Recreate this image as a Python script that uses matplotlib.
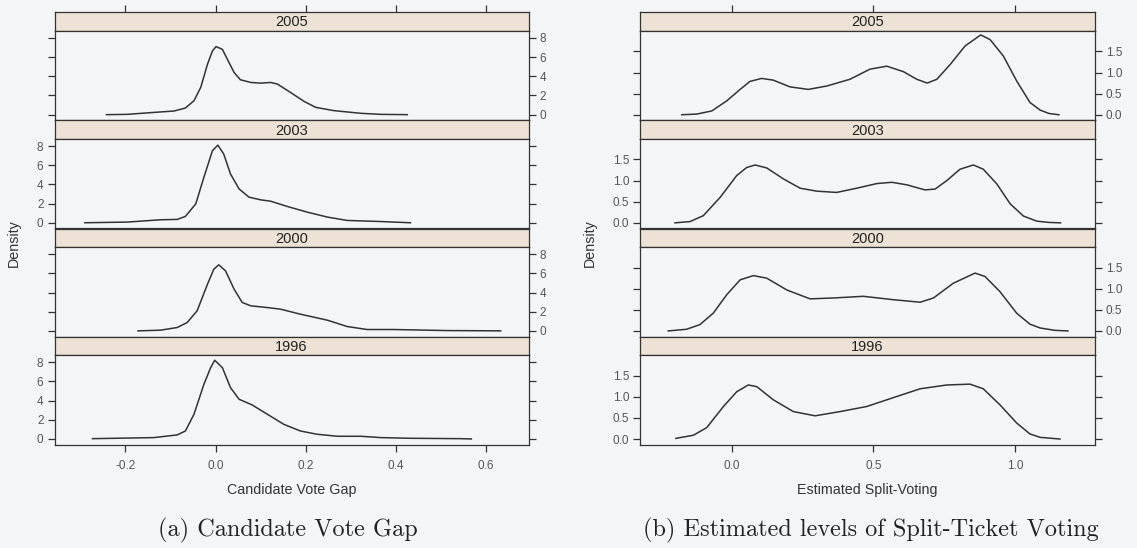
import matplotlib.pyplot as plt

plt.rcParams["font.family"] = ["Liberation Sans", "DejaVu Sans"]
plt.rcParams["axes.unicode_minus"] = False

years = ["2005", "2003", "2000", "1996"]

# candidate vote gap densities, one curve per year
gap_x_2005 = [-0.242, -0.196, -0.144, -0.092, -0.067, -0.048, -0.033, -0.018, -0.007, 0.001,
              0.015, 0.026, 0.041, 0.055, 0.078, 0.100, 0.122, 0.137, 0.166, 0.196,
              0.222, 0.262, 0.322, 0.366, 0.425]
gap_y_2005 = [0.0, 0.03, 0.21, 0.38, 0.69, 1.45, 2.84, 5.26, 6.65, 7.10,
              6.82, 5.78, 4.40, 3.64, 3.36, 3.29, 3.36, 3.19, 2.32, 1.39,
              0.76, 0.42, 0.14, 0.03, 0.0]
gap_x_2003 = [-0.290, -0.196, -0.122, -0.085, -0.067, -0.044, -0.026, -0.007, 0.005, 0.018,
              0.033, 0.052, 0.074, 0.100, 0.122, 0.159, 0.203, 0.248, 0.292, 0.359, 0.432]
gap_y_2003 = [0.0, 0.07, 0.31, 0.35, 0.66, 1.97, 4.74, 7.52, 8.10, 7.17,
              5.09, 3.53, 2.67, 2.39, 2.25, 1.70, 1.11, 0.59, 0.24, 0.14, 0.0]
gap_x_2000 = [-0.172, -0.122, -0.085, -0.063, -0.041, -0.018, -0.004, 0.007, 0.022, 0.041,
              0.059, 0.078, 0.115, 0.144, 0.188, 0.248, 0.292, 0.336, 0.395, 0.469,
              0.513, 0.632]
gap_y_2000 = [0.0, 0.07, 0.35, 0.87, 2.09, 4.87, 6.43, 6.89, 6.26, 4.35,
              2.96, 2.61, 2.43, 2.26, 1.74, 1.11, 0.45, 0.14, 0.14, 0.07,
              0.03, 0.0]
gap_x_1996 = [-0.273, -0.137, -0.085, -0.067, -0.048, -0.026, -0.011, -0.002, 0.015, 0.033,
              0.052, 0.081, 0.115, 0.151, 0.188, 0.225, 0.270, 0.322, 0.366, 0.432,
              0.543, 0.567]
gap_y_1996 = [0.03, 0.14, 0.42, 0.83, 2.57, 5.70, 7.44, 8.21, 7.44, 5.36,
              4.14, 3.55, 2.57, 1.53, 0.83, 0.49, 0.28, 0.28, 0.14, 0.07,
              0.03, 0.0]

# estimated split-ticket voting densities
split_x_2005 = [-0.177, -0.124, -0.071, -0.018, 0.029, 0.064, 0.105, 0.146, 0.205, 0.270,
                0.335, 0.417, 0.488, 0.547, 0.606, 0.653, 0.690, 0.724, 0.771, 0.824,
                0.879, 0.912, 0.959, 1.006, 1.053, 1.089, 1.120, 1.155]
split_y_2005 = [0.0, 0.016, 0.09, 0.33, 0.60, 0.79, 0.86, 0.82, 0.66, 0.60,
                0.68, 0.84, 1.08, 1.15, 1.02, 0.84, 0.75, 0.84, 1.19, 1.63,
                1.89, 1.78, 1.39, 0.80, 0.29, 0.11, 0.03, 0.0]
split_x_2003 = [-0.201, -0.148, -0.101, -0.042, 0.017, 0.052, 0.082, 0.123, 0.182, 0.241,
                0.300, 0.370, 0.441, 0.512, 0.565, 0.618, 0.682, 0.718, 0.759, 0.806,
                0.853, 0.888, 0.936, 0.983, 1.030, 1.077, 1.120, 1.161]
split_y_2003 = [0.0, 0.03, 0.17, 0.60, 1.12, 1.31, 1.37, 1.30, 1.04, 0.82,
                0.75, 0.72, 0.82, 0.93, 0.96, 0.90, 0.78, 0.80, 1.0, 1.27,
                1.37, 1.27, 0.92, 0.45, 0.16, 0.04, 0.01, 0.0]
split_x_2000 = [-0.225, -0.160, -0.113, -0.066, -0.018, 0.029, 0.076, 0.123, 0.194, 0.276,
                0.358, 0.464, 0.570, 0.665, 0.712, 0.782, 0.859, 0.894, 0.947, 1.006,
                1.053, 1.089, 1.140, 1.187]
split_y_2000 = [0.0, 0.04, 0.15, 0.42, 0.86, 1.21, 1.31, 1.25, 0.97, 0.76,
                0.78, 0.82, 0.74, 0.68, 0.78, 1.13, 1.37, 1.29, 0.93, 0.42,
                0.16, 0.07, 0.015, 0.0]
split_x_1996 = [-0.198, -0.136, -0.089, -0.030, 0.017, 0.058, 0.088, 0.146, 0.217, 0.294,
                0.382, 0.476, 0.570, 0.665, 0.759, 0.841, 0.888, 0.947, 1.006, 1.053,
                1.089, 1.159]
split_y_1996 = [0.016, 0.09, 0.27, 0.77, 1.12, 1.28, 1.24, 0.93, 0.65, 0.55,
                0.65, 0.77, 0.98, 1.19, 1.28, 1.30, 1.19, 0.81, 0.38, 0.12,
                0.04, 0.0]

gap_curves = [(gap_x_2005, gap_y_2005), (gap_x_2003, gap_y_2003),
              (gap_x_2000, gap_y_2000), (gap_x_1996, gap_y_1996)]
split_curves = [(split_x_2005, split_y_2005), (split_x_2003, split_y_2003),
                (split_x_2000, split_y_2000), (split_x_1996, split_y_1996)]

gap_xticks = [-0.2, 0.0, 0.2, 0.4, 0.6]
gap_yticks = [0, 2, 4, 6, 8]
split_xticks = [0.0, 0.5, 1.0]
split_yticks = [0.0, 0.5, 1.0, 1.5]

W, H = 1137, 548
bg = "#f4f5f7"
strip_col = "#ede2d5"
line_col = "#333333"
label_col = "#555555"

fig = plt.figure(figsize=(W / 100, H / 100), dpi=100, facecolor=bg)


def lattice(x0, x1, curves, xlim, ylim, xticks, yticks, yfmt, xlabel, ylabel_x):
    top0 = 12.3
    step = 108.1
    strip_h = 18.4
    for i, (year, (cx, cy)) in enumerate(zip(years, curves)):
        s_top = top0 + i * step
        # strip with the year
        sax = fig.add_axes([x0 / W, 1 - (s_top + strip_h) / H, (x1 - x0) / W, strip_h / H])
        sax.set_facecolor(strip_col)
        sax.set_xlim(xlim)
        sax.set_yticks([])
        sax.text(0.5, 0.45, year, transform=sax.transAxes, ha="center", va="center",
                 fontsize=10.5, color="#222222")
        if i == 0:
            sax.xaxis.tick_top()
            sax.set_xticks(xticks)
            sax.tick_params(axis="x", direction="out", length=5, width=0.9,
                            color=line_col, labeltop=False)
        else:
            sax.set_xticks([])
        for sp in sax.spines.values():
            sp.set_color(line_col)
            sp.set_linewidth(0.9)

        # panel
        p_top = s_top + strip_h
        p_h = step - strip_h
        ax = fig.add_axes([x0 / W, 1 - (p_top + p_h) / H, (x1 - x0) / W, p_h / H])
        ax.set_facecolor(bg)
        ax.plot(cx, cy, color=line_col, lw=1.1)
        ax.set_xlim(xlim)
        ax.set_ylim(ylim)
        ax.set_yticks(yticks)
        ax.set_yticklabels([yfmt.format(v) for v in yticks])
        right_labels = (i % 2 == 0)
        ax.tick_params(axis="y", direction="out", length=5, width=0.9, color=line_col,
                       left=True, right=True, labelleft=not right_labels,
                       labelright=right_labels, labelsize=8.5, labelcolor=label_col, pad=3)
        if i == 3:
            ax.set_xticks(xticks)
            ax.set_xticklabels(["{:.1f}".format(v) for v in xticks])
            ax.tick_params(axis="x", direction="out", length=5, width=0.9, color=line_col,
                           labelsize=8.5, labelcolor=label_col, pad=6)
            ax.set_xlabel(xlabel, fontsize=10.3, color="#333333", labelpad=8)
        else:
            ax.set_xticks([])
        for sp in ax.spines.values():
            sp.set_color(line_col)
            sp.set_linewidth(0.9)

    fig.text(ylabel_x / W, 1 - 243 / H, "Density", rotation=90, ha="center", va="center",
             fontsize=10.3, color="#333333")


lattice(54.6, 528.6, gap_curves, (-0.357, 0.694), (-0.6, 8.76),
        gap_xticks, gap_yticks, "{:d}", "Candidate Vote Gap", 14)
lattice(640.2, 1094.8, split_curves, (-0.324, 1.282), (-0.134, 1.99),
        split_xticks, split_yticks, "{:.1f}", "Estimated Split-Voting", 590)

fig.text(288 / W, 1 - 536 / H, "(a) Candidate Vote Gap", ha="center", va="baseline",
         fontsize=17.5, family="cmr10", color="#222222")
fig.text(871 / W, 1 - 536 / H, "(b) Estimated levels of Split-Ticket Voting", ha="center",
         va="baseline", fontsize=17.5, family="cmr10", color="#222222")

fig.savefig("out.png", dpi=100, facecolor=bg)
